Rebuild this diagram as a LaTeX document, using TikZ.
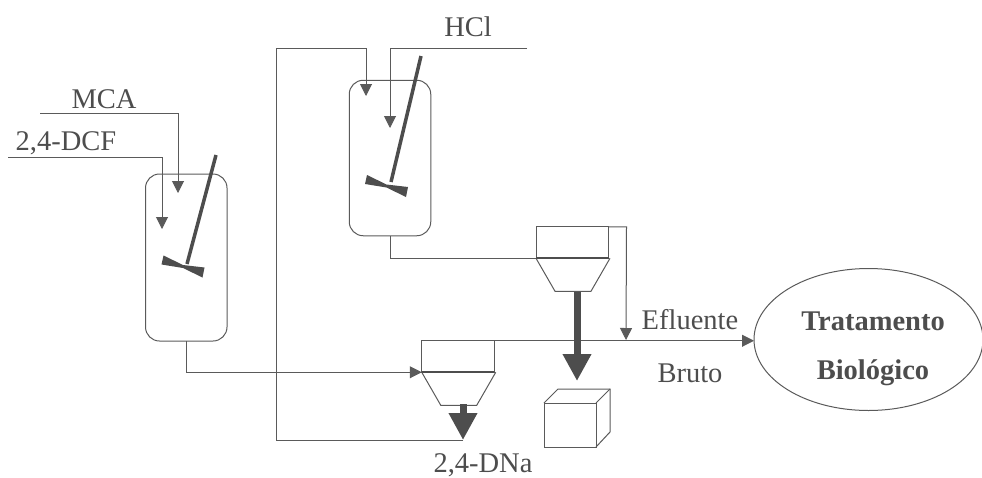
\documentclass[tikz,border=0pt]{standalone}
\usepackage{fontspec}
\setmainfont{Liberation Serif}
\usetikzlibrary{arrows.meta,shapes.geometric}
\definecolor{ink}{HTML}{4D4D4D}
\definecolor{wire}{HTML}{5A5A5A}
\begin{document}
\begin{tikzpicture}[x=1pt, y=-1pt, line width=1pt, color=wire,
    vessel/.style={draw, rounded corners=14pt, minimum width=81.5pt, inner sep=0pt, outer sep=0pt},
    tank/.style={draw, minimum width=72.5pt, minimum height=31.5pt, inner sep=0pt, outer sep=0pt},
    label/.style={text=ink, inner sep=0pt, font=\fontsize{28.5}{32}\selectfont},
    flow/.style={-{Triangle[width=12pt,length=12pt]}},
    solid flow/.style={line width=7pt, color=ink, -{Triangle[width=27pt,length=27pt]}},
    shaft/.style={line width=3.5pt, color=ink},
    blade/.style={fill=ink, draw=none},]
    \useasboundingbox (0,0) rectangle (982,477);
    \node[vessel, minimum height=167pt] (reactorA) at (186.25,257.5) {};
    \node[vessel, minimum height=155.5pt] (reactorB) at (390,158) {};
    \node[tank] (settlerA) at (458,356.5) {};
    \node[tank] (settlerB) at (572.25,242.5) {};
    \node[draw, ellipse, minimum width=229pt, minimum height=142pt, inner sep=0pt, outer sep=0pt] (bio) at (868.5,339.5) {};
    \node[draw, minimum width=52pt, minimum height=44pt, inner sep=0pt, outer sep=0pt] (cake) at (570,425) {};
    \draw (cake.north west) -- ++(14,-14) -- ++(52,0) -- ++(0,43) -- (cake.south east);
    \draw (cake.north east) -- ++(14,-14);
    % labels
    \node[label] (mca) at (104,99) {MCA};
    \node[label] (dcf) at (66,143) {2,4-DCF};
    \node[label] (hcl) at (468,27) {HCl};
    \node[label] (dna) at (483,465) {2,4-DNa};
    \node[label] (efluente) at (690,320) {Efluente};
    \node[label] (bruto) at (690,373) {Bruto};
    \node[label, font=\fontsize{28.5}{32}\selectfont\bfseries] (trat) at (873,321) {Tratamento};
    \node[label, font=\fontsize{28.5}{32}\selectfont\bfseries] (biol) at (873,373) {Biológico};
    % free ends
    \coordinate (mcaIn) at (40,113);
    \coordinate (dcfIn) at (8,157);
    \coordinate (hclIn) at (527,48);
    \coordinate (mcaTip) at (178,193);
    \coordinate (dcfTip) at (162,229);
    \coordinate (hclTip) at (390,128);
    \coordinate (backTip) at (366,96);
    \coordinate (crystal) at (463,440);
    \coordinate (over) at (626,340);
    % feeds
    \draw[flow] (mcaIn) -| (mcaTip);
    \draw[flow] (dcfIn) -| (dcfTip);
    \draw[flow] (hclIn) -| (hclTip);
    \draw[flow] (crystal) -- (276,440) -- (276,48) -| (backTip);
    \draw[flow] (reactorA.south) |- (settlerA.south west);
    \draw (reactorB.south) |- (settlerB.south west);
    \draw[flow] (settlerB.north east) -- ++(18,0) -- (over);
    \draw[flow] (settlerA.north east) -- (settlerA.north east -| bio.west);
    % agitators
    \draw[shaft] (421,56) -- (391,182);
    \draw[shaft] (216,155) -- (187,264);
    \foreach \cx/\cy in {386.5/186, 183/266.5}
      \fill[blade] (\cx-19.5,\cy-11) -- (\cx,\cy-1.5) -- (\cx+21.5,\cy+1) -- (\cx+19.5,\cy+11) -- (\cx,\cy+1.5) -- (\cx-21.5,\cy-2) -- cycle;
    % settlers
    \foreach \s in {settlerA,settlerB} {
      \draw (\s.south west) -- ++(19,33) -- ++(36,0) -- ++(19,-33);
      \draw[line width=2pt, color=ink] (\s.south west) -- (\s.south east);
    }
    \draw[solid flow] (463,404) -- (crystal);
    \draw[solid flow] (577,292) -- (577,381);
  \end{tikzpicture}
\end{document}
